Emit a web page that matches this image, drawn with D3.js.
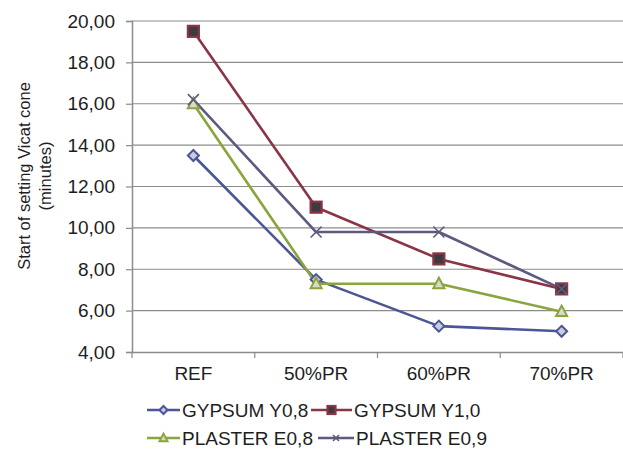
<!DOCTYPE html>
<html>
<head>
<meta charset="utf-8">
<script src="https://cdn.jsdelivr.net/npm/d3@7"></script>
<style>
  html, body { margin: 0; padding: 0; background: #fff; }
  svg text { font-family: "Liberation Sans", Arial, sans-serif; fill: #1e1e1e; }
</style>
</head>
<body>
<svg id="chart" width="623" height="452"></svg>
<script>
// Setting time data (minutes)
const categories = ["REF", "50%PR", "60%PR", "70%PR"];
const gypsumY08 = [13.5, 7.5, 5.25, 5.0];
const gypsumY10 = [19.5, 11.0, 8.5, 7.05];
const plasterE08 = [16.0, 7.3, 7.3, 5.95];
const plasterE09 = [16.2, 9.8, 9.8, 7.05];
const yTicks = [4, 6, 8, 10, 12, 14, 16, 18, 20];

const series = [
  { name: "GYPSUM Y0,8", values: gypsumY08, color: "#4c5697", marker: "diamond" },
  { name: "GYPSUM Y1,0", values: gypsumY10, color: "#8a3446", marker: "square" },
  { name: "PLASTER E0,8", values: plasterE08, color: "#8aa53e", marker: "triangle" },
  { name: "PLASTER E0,9", values: plasterE09, color: "#5d5a80", marker: "x" }
];

const svg = d3.select("#chart");
const plotLeft = 132, plotRight = 623, plotTop = 21, plotBottom = 352;
const tickFont = 19;

const x = d3.scaleBand().domain(categories).range([plotLeft, plotRight]);
const y = d3.scaleLinear().domain([4, 20]).range([plotBottom, plotTop]);
const fmt = v => d3.format(".2f")(v).replace(".", ",");

// Gridlines
svg.append("g").selectAll("line").data(yTicks.filter(t => t > 4)).join("line")
  .attr("x1", plotLeft).attr("x2", plotRight)
  .attr("y1", d => y(d)).attr("y2", d => y(d))
  .attr("stroke", "#8c8c8c").attr("stroke-width", 1.2);

// Y axis
const yAxis = svg.append("g").attr("transform", `translate(${plotLeft},0)`)
  .call(d3.axisLeft(y).tickValues(yTicks).tickFormat(fmt).tickSize(6).tickPadding(11));
yAxis.select(".domain").attr("stroke", "#8c8c8c").attr("stroke-width", 1.5);
yAxis.selectAll(".tick line").attr("stroke", "#8c8c8c").attr("stroke-width", 1.2);
yAxis.selectAll(".tick text").attr("font-size", tickFont).attr("fill", "#1e1e1e")
  .attr("font-family", "'Liberation Sans', Arial, sans-serif");

// X axis
const xAxis = svg.append("g").attr("transform", `translate(0,${plotBottom})`)
  .call(d3.axisBottom(x).tickSize(0).tickPadding(15));
xAxis.select(".domain").attr("stroke", "#8c8c8c").attr("stroke-width", 1.5);
xAxis.selectAll(".tick text").attr("font-size", tickFont).attr("fill", "#1e1e1e")
  .attr("font-family", "'Liberation Sans', Arial, sans-serif");
// category separator ticks
const bounds = categories.map(c => x(c)).concat([plotRight]);
svg.append("g").selectAll("line").data(bounds).join("line")
  .attr("x1", d => d).attr("x2", d => d)
  .attr("y1", plotBottom).attr("y2", plotBottom + 6)
  .attr("stroke", "#8c8c8c").attr("stroke-width", 1.2);

// Y axis title
const yt = svg.append("text")
  .attr("transform", "translate(30,176) rotate(-90)")
  .attr("text-anchor", "middle").attr("font-size", 16.5);
yt.append("tspan").attr("x", 0).attr("dy", 0).text("Start of setting Vicat cone");
yt.append("tspan").attr("x", 0).attr("dy", 20.5).text("(minutes)");

// Marker drawing
function drawMarker(g, type, color, size) {
  const s = size;
  if (type === "diamond") {
    g.append("path").attr("d", `M0,${-s}L${s},0L0,${s}L${-s},0Z`)
      .attr("fill", "#c8cce0").attr("stroke", color).attr("stroke-width", 2);
  } else if (type === "square") {
    g.append("rect").attr("x", -s).attr("y", -s).attr("width", 2 * s).attr("height", 2 * s)
      .attr("fill", "#3c3c40").attr("stroke", color).attr("stroke-width", 2.2);
  } else if (type === "triangle") {
    g.append("path").attr("d", `M0,${-s * 1.1}L${s},${s * 0.8}L${-s},${s * 0.8}Z`)
      .attr("fill", "#d8dcc4").attr("stroke", color).attr("stroke-width", 2);
  } else if (type === "x") {
    g.append("path").attr("d", `M${-s},${-s}L${s},${s}M${-s},${s}L${s},${-s}`)
      .attr("stroke", color).attr("stroke-width", 1.6).attr("fill", "none");
  }
}

const cx = c => x(c) + x.bandwidth() / 2;
const line = d3.line().x((d, i) => cx(categories[i])).y(d => y(d));

series.forEach(s => {
  svg.append("path").datum(s.values).attr("d", line)
    .attr("fill", "none").attr("stroke", s.color).attr("stroke-width", 2.6)
    .attr("stroke-linejoin", "round");
});
series.forEach(s => {
  s.values.forEach((v, i) => {
    const g = svg.append("g").attr("transform", `translate(${cx(categories[i])},${y(v)})`);
    drawMarker(g, s.marker, s.color, 5.5);
  });
});

// Legend
const legendPos = [
  { x: 147, y: 410, w: 33 }, { x: 311, y: 410, w: 41 },
  { x: 147, y: 438, w: 33 }, { x: 318, y: 438, w: 36 }
];
series.forEach((s, i) => {
  const p = legendPos[i];
  const g = svg.append("g").attr("transform", `translate(${p.x},${p.y})`);
  g.append("line").attr("x1", 0).attr("x2", p.w).attr("y1", 0).attr("y2", 0)
    .attr("stroke", s.color).attr("stroke-width", 2.6);
  const m = g.append("g").attr("transform", `translate(${p.w / 2},0)`);
  drawMarker(m, s.marker, s.color, s.marker === "x" ? 3 : 4);
  g.append("text").attr("x", p.w + 2).attr("y", 6.5).attr("font-size", tickFont).text(s.name);
});
</script>
</body>
</html>
